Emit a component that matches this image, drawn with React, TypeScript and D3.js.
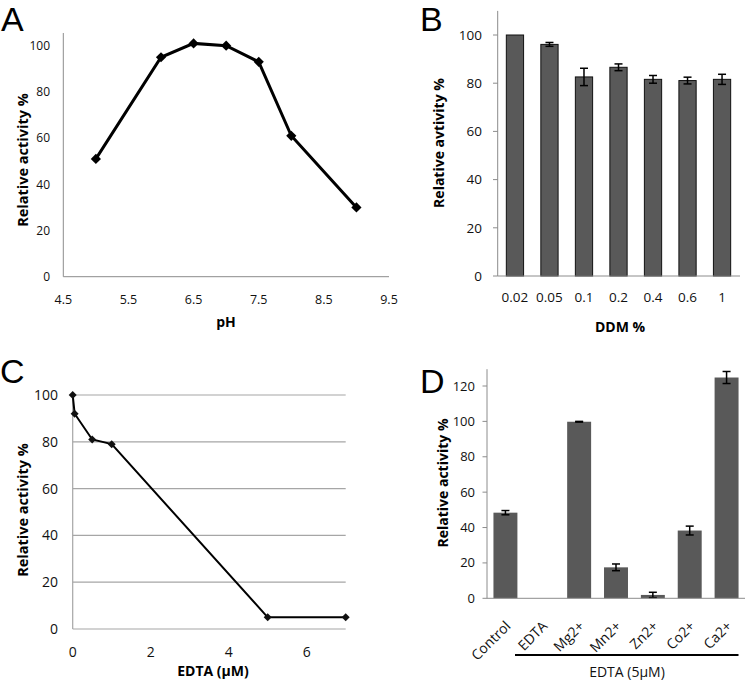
import React from "react";
import { scaleLinear, scaleBand, line, symbol, symbolSquare } from "d3";

// Panel A: pH profile
const phValues = [5, 6, 6.5, 7, 7.5, 8, 9];
const phActivity = [51, 95, 101, 100, 93, 61, 30];
const phTicks = [4.5, 5.5, 6.5, 7.5, 8.5, 9.5];

// Panel B: DDM
const ddmLevels = ["0.02", "0.05", "0.1", "0.2", "0.4", "0.6", "1"];
const ddmActivity = [100, 96.1, 82.6, 86.6, 81.6, 81.1, 81.6];
const ddmError = [0, 0.8, 3.6, 1.4, 1.6, 1.4, 2.1];

// Panel C: EDTA
const edtaConc = [0, 0.05, 0.5, 1, 5, 7];
const edtaActivity = [100, 92, 81, 79, 5, 5];
const edtaTicks = [0, 2, 4, 6];

// Panel D: metal ions
const ions = ["Control", "EDTA", "Mg2+", "Mn2+", "Zn2+", "Co2+", "Ca2+"];
const ionActivity = [48.4, 0, 99.8, 17.5, 1.9, 38.3, 124.8];
const ionError = [1.2, 0, 0.2, 1.9, 1.5, 2.5, 3.4];
const ionTicks = [0, 20, 40, 60, 80, 100, 120];

const pctTicks = [0, 20, 40, 60, 80, 100];

const FONT = "'Open Sans', sans-serif";
const LETTER_FONT = "'Liberation Sans', Arial, sans-serif";
const AXIS = "#8c8c8c";
const BAR = "#595959";
const INK = "#111";

function ErrorBar({ x, y0, y1 }: { x: number; y0: number; y1: number }) {
  return (
    <g stroke="#000" strokeWidth={1.5}>
      <line x1={x} x2={x} y1={y0} y2={y1} />
      <line x1={x - 4} x2={x + 4} y1={y0} y2={y0} />
      <line x1={x - 4} x2={x + 4} y1={y1} y2={y1} />
    </g>
  );
}

function PanelLetter({ x, y, label }: { x: number; y: number; label: string }) {
  return (
    <text x={x} y={y} fontSize={34} fontFamily={LETTER_FONT}>{label}</text>
  );
}

function PanelA() {
  const x = scaleLinear().domain([4.5, 9.5]).range([63.3, 389]);
  const y = scaleLinear().domain([0, 100]).range([276.7, 45.7]);
  const pts = phValues.map((v, i) => [x(v), y(phActivity[i])] as [number, number]);
  const diamond = symbol(symbolSquare, 52)();
  return (
    <g>
      <PanelLetter x={1} y={31} label="A" />
      <line x1={x(4.5)} x2={x(4.5)} y1={y(105.5)} y2={y(0)} stroke={AXIS} />
      <line x1={x(4.5)} x2={x(9.5)} y1={y(0)} y2={y(0)} stroke={AXIS} />
      {pctTicks.map((t) => (
        <text key={t} x={50} y={y(t)} dy="0.35em" textAnchor="end" fontSize={12} fontFamily={FONT} fill={INK}>{t}</text>
      ))}
      {phTicks.map((t) => (
        <text key={t} x={x(t)} y={300} dy="0.35em" textAnchor="middle" fontSize={12.5} fontFamily={FONT} fill={INK}>{t}</text>
      ))}
      <path d={line()(pts) ?? ""} fill="none" stroke="#000" strokeWidth={3} />
      {pts.map(([px, py], i) => (
        <path key={i} d={diamond ?? ""} transform={`translate(${px},${py}) rotate(45)`} fill="#000" />
      ))}
      <text x={226} y={322} dy="0.35em" textAnchor="middle" fontSize={14} fontWeight="bold" fontFamily={FONT}>pH</text>
      <text transform="translate(23,160) rotate(-90)" dy="0.35em" textAnchor="middle" fontSize={14.5} fontWeight="bold" fontFamily={FONT}>Relative activity %</text>
    </g>
  );
}

function PanelB() {
  const x = scaleBand<string>().domain(ddmLevels).range([497.7, 739.3]).paddingInner(0.5).paddingOuter(0.25);
  const y = scaleLinear().domain([0, 100]).range([276, 35]);
  return (
    <g>
      <PanelLetter x={420} y={31} label="B" />
      <line x1={497.7} x2={497.7} y1={y(110)} y2={y(0)} stroke={AXIS} />
      {pctTicks.map((t) => (
        <g key={t}>
          <line x1={493} x2={497.7} y1={y(t)} y2={y(t)} stroke={AXIS} />
          <text x={482} y={y(t)} dy="0.35em" textAnchor="end" fontSize={13.5} fontFamily={FONT} fill={INK}>{t}</text>
        </g>
      ))}
      {ddmLevels.map((d, i) => (
        <rect key={d} x={x(d)} y={y(ddmActivity[i])} width={x.bandwidth()} height={y(0) - y(ddmActivity[i])} fill={BAR} stroke="#111" strokeWidth={1} />
      ))}
      {ddmLevels.map((d, i) =>
        ddmError[i] > 0 ? (
          <ErrorBar key={d} x={(x(d) ?? 0) + x.bandwidth() / 2} y0={y(ddmActivity[i] + ddmError[i])} y1={y(ddmActivity[i] - ddmError[i])} />
        ) : null
      )}
      <line x1={497.7} x2={740} y1={y(0)} y2={y(0)} stroke={AXIS} />
      {ddmLevels.map((d) => (
        <text key={d} x={(x(d) ?? 0) + x.bandwidth() / 2} y={297} dy="0.35em" textAnchor="middle" fontSize={13.5} fontFamily={FONT} fill={INK}>{d}</text>
      ))}
      <text x={620} y={327} dy="0.35em" textAnchor="middle" fontSize={14} fontWeight="bold" fontFamily={FONT}>DDM %</text>
      <text transform="translate(439,143) rotate(-90)" dy="0.35em" textAnchor="middle" fontSize={14} fontWeight="bold" fontFamily={FONT}>Relative avtivity %</text>
    </g>
  );
}

function PanelC() {
  const x = scaleLinear().domain([0, 7]).range([72.7, 345.7]);
  const y = scaleLinear().domain([0, 100]).range([629, 395]);
  const pts = edtaConc.map((v, i) => [x(v), y(edtaActivity[i])] as [number, number]);
  const diamond = symbol(symbolSquare, 32)();
  return (
    <g>
      <PanelLetter x={0} y={383} label="C" />
      {pctTicks.map((t) => (
        <g key={t}>
          <line x1={x(0)} x2={x(7)} y1={y(t)} y2={y(t)} stroke="#a6a6a6" strokeWidth={1.2} />
          <text x={58} y={y(t)} dy="0.35em" textAnchor="end" fontSize={14} fontFamily={FONT} fill={INK}>{t}</text>
        </g>
      ))}
      <line x1={x(0)} x2={x(0)} y1={y(100)} y2={y(0)} stroke="#a6a6a6" strokeWidth={1.2} />
      {edtaTicks.map((t) => (
        <text key={t} x={x(t)} y={652} dy="0.35em" textAnchor="middle" fontSize={14} fontFamily={FONT} fill={INK}>{t}</text>
      ))}
      <path d={line()(pts) ?? ""} fill="none" stroke="#000" strokeWidth={2} />
      {pts.map(([px, py], i) => (
        <path key={i} d={diamond ?? ""} transform={`translate(${px},${py}) rotate(45)`} fill="#111" />
      ))}
      <text x={213} y={671} dy="0.35em" textAnchor="middle" fontSize={14} fontWeight="bold" fontFamily={FONT}>EDTA (µM)</text>
      <text transform="translate(23,510) rotate(-90)" dy="0.35em" textAnchor="middle" fontSize={14.5} fontWeight="bold" fontFamily={FONT}>Relative activity %</text>
    </g>
  );
}

function PanelD() {
  const x = scaleBand<string>().domain(ions).range([487, 745]).paddingInner(0.35).paddingOuter(0.175);
  const y = scaleLinear().domain([0, 120]).range([598.3, 386]);
  const cx = (d: string) => (x(d) ?? 0) + x.bandwidth() / 2;
  return (
    <g>
      <PanelLetter x={420} y={393} label="D" />
      <line x1={487} x2={487} y1={y(129.5)} y2={y(0)} stroke={AXIS} />
      {ionTicks.map((t) => (
        <g key={t}>
          <line x1={482.5} x2={487} y1={y(t)} y2={y(t)} stroke={AXIS} />
          <text x={475} y={y(t)} dy="0.35em" textAnchor="end" fontSize={13} fontFamily={FONT} fill={INK}>{t}</text>
        </g>
      ))}
      {ions.map((d, i) => (
        <rect key={d} x={x(d)} y={y(ionActivity[i])} width={x.bandwidth()} height={y(0) - y(ionActivity[i])} fill={BAR} />
      ))}
      {ions.map((d, i) =>
        ionError[i] > 0 ? (
          <ErrorBar key={d} x={cx(d)} y0={y(ionActivity[i] + ionError[i])} y1={y(ionActivity[i] - ionError[i])} />
        ) : null
      )}
      <line x1={487} x2={745} y1={y(0)} y2={y(0)} stroke={AXIS} />
      {ions.map((d) => (
        <text key={d} transform={`translate(${cx(d) + 6},${627}) rotate(-45)`} textAnchor="end" fontSize={14} fontFamily={FONT} fill={INK}>{d}</text>
      ))}
      <line x1={515} x2={738.5} y1={655} y2={655} stroke="#000" strokeWidth={2} />
      <text x={627} y={672} dy="0.35em" textAnchor="middle" fontSize={14} fontFamily={FONT} fill={INK}>EDTA (5µM)</text>
      <text transform="translate(443,483) rotate(-90)" dy="0.35em" textAnchor="middle" fontSize={14} fontWeight="bold" fontFamily={FONT}>Relative activity %</text>
    </g>
  );
}

export default function App() {
  return (
    <svg width={745} height={680} style={{ position: "absolute", left: 0, top: 0, background: "#fff" }}>
      <rect width={745} height={680} fill="#fff" />
      <PanelA />
      <PanelB />
      <PanelC />
      <PanelD />
    </svg>
  );
}
